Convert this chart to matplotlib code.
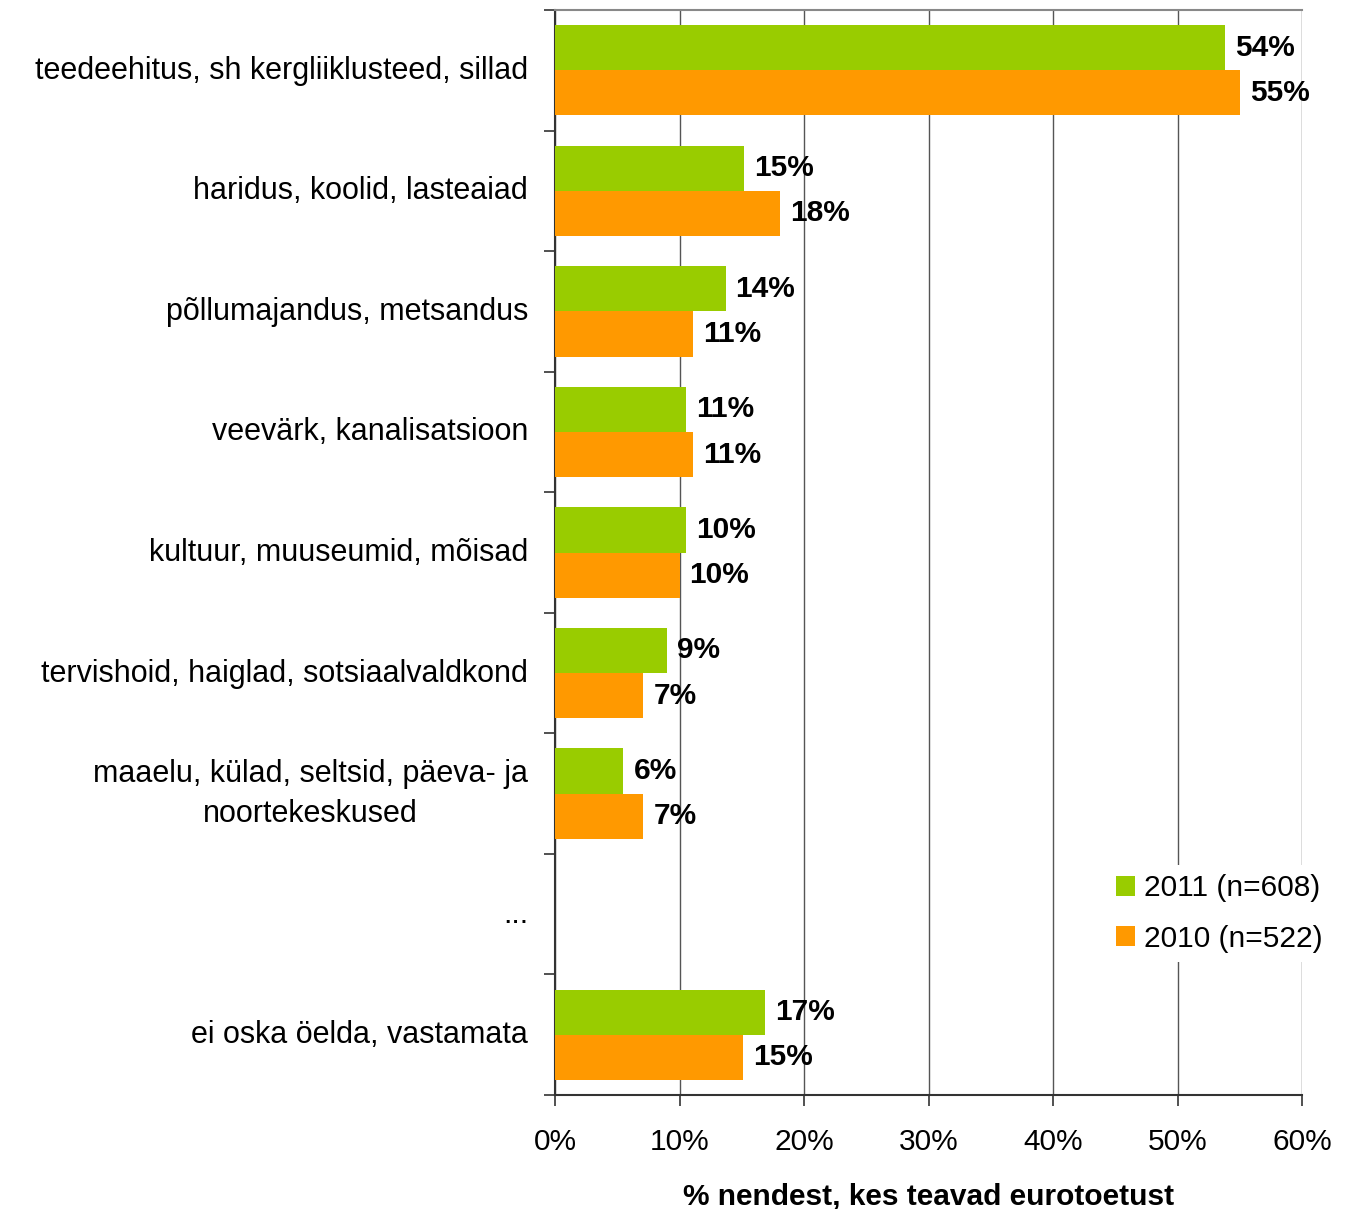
import numpy as np
import matplotlib.pyplot as plt

plt.rcParams['font.family'] = ['Liberation Sans', 'DejaVu Sans']

categories = [
    "teedeehitus, sh kergliiklusteed, sillad",
    "haridus, koolid, lasteaiad",
    "põllumajandus, metsandus",
    "veevärk, kanalisatsioon",
    "kultuur, muuseumid, mõisad",
    "tervishoid, haiglad, sotsiaalvaldkond",
    "maaelu, külad, seltsid, päeva- ja\nnoortekeskused",
    "...",
    "ei oska öelda, vastamata",
]
vals_2011 = [53.8, 15.2, 13.7, 10.5, 10.5, 9.0, 5.5, None, 16.9]
vals_2010 = [55.0, 18.1, 11.1, 11.1, 10.0, 7.1, 7.1, None, 15.1]
labels_2011 = ["54%", "15%", "14%", "11%", "10%", "9%", "6%", "", "17%"]
labels_2010 = ["55%", "18%", "11%", "11%", "10%", "7%", "7%", "", "15%"]
series_names = ["2011 (n=608)", "2010 (n=522)"]
green = "#99CC00"
orange = "#FF9900"

fs = 21.5

fig = plt.figure(figsize=(13.49, 12.09), dpi=100)
ax = fig.add_axes([555/1349, 1 - 1095/1209, (1302-555)/1349, (1095-10)/1209])

n = len(categories)
y = np.arange(n)
h = 0.375
for i in range(n):
    if vals_2011[i] is None:
        continue
    ax.barh(y[i] - h/2, vals_2011[i], height=h, color=green, zorder=3,
            label=series_names[0] if i == 0 else None)
    ax.barh(y[i] + h/2, vals_2010[i], height=h, color=orange, zorder=3,
            label=series_names[1] if i == 0 else None)
    ax.text(vals_2011[i] + 0.8, y[i] - h/2, labels_2011[i], va='center', ha='left',
            fontsize=fs, fontweight='bold', zorder=4)
    ax.text(vals_2010[i] + 0.8, y[i] + h/2, labels_2010[i], va='center', ha='left',
            fontsize=fs, fontweight='bold', zorder=4)

ax.set_ylim(n - 0.5, -0.5)
ax.set_xlim(0, 60)
ax.set_yticks(np.arange(n + 1) - 0.5)
ax.set_yticklabels([])
# category labels sit a little above the slot centre (two-line one a bit more)
label_pos = y - 0.025
label_pos[6] = y[6] - 0.07
ax.set_yticks(label_pos, minor=True)
ax.set_yticklabels(categories, minor=True, fontsize=22, ha='right',
                   multialignment='center', linespacing=1.45)
ax.tick_params(axis='y', which='minor', length=0, pad=19.5)
ax.tick_params(axis='y', which='major', length=8, width=1.2, color='#333333')

ax.set_xticks(np.arange(0, 61, 10))
ax.set_xticklabels([f"{v}%" for v in range(0, 61, 10)], fontsize=fs)
ax.tick_params(axis='x', length=8, width=1.2, color='#333333', pad=16)
ax.xaxis.grid(True, color='#555555', linewidth=1.0, zorder=0)

for s in ['left', 'bottom']:
    ax.spines[s].set_color('#333333')
    ax.spines[s].set_linewidth(1.5)
ax.spines['top'].set_color('#888888')
ax.spines['top'].set_linewidth(1.5)
ax.spines['right'].set_visible(False)

ax.set_xlabel("% nendest, kes teavad eurotoetust", fontsize=fs, fontweight='bold', labelpad=19)

leg = ax.legend(loc='lower right', bbox_to_anchor=(1.04, 0.123), frameon=True, fontsize=fs,
                handlelength=0.65, handleheight=0.65, handletextpad=0.3, labelspacing=0.75,
                borderpad=0.3, borderaxespad=0)
leg.get_frame().set_edgecolor('none')
leg.get_frame().set_facecolor('white')
leg.get_frame().set_alpha(1.0)

fig.savefig("out.png", dpi=100)
